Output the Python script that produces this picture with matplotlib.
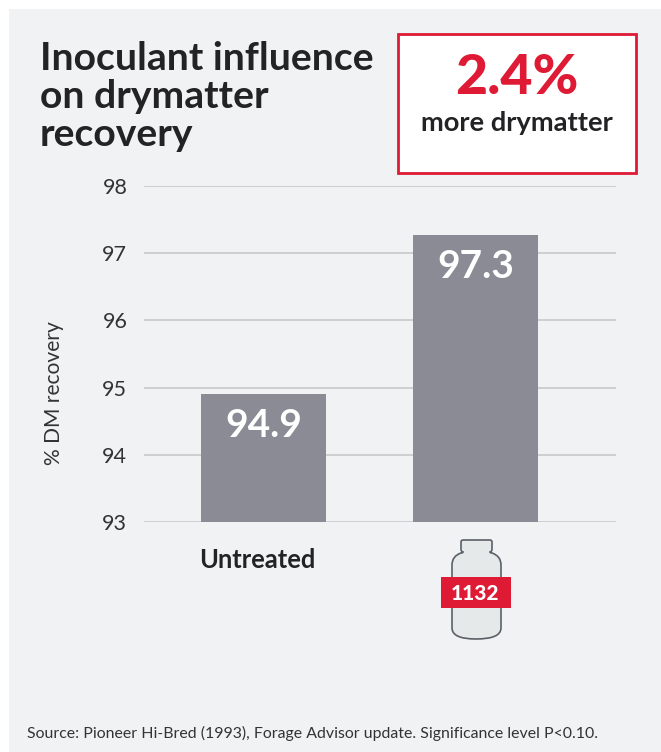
import matplotlib
matplotlib.use("Agg")
import matplotlib.pyplot as plt
from matplotlib.patches import Rectangle, PathPatch
from matplotlib.path import Path

categories = ["Untreated", "1132"]
values = [94.9, 97.27]
yticks = [93, 94, 95, 96, 97, 98]
title_lines = ["Inoculant influence", "on drymatter", "recovery"]
callout_value = "2.4%"
callout_text = "more drymatter"
ylabel = "% DM recovery"
source = "Source: Pioneer Hi-Bred (1993), Forage Advisor update. Significance level P<0.10."

W, H = 661, 752
RED = "#DE1A35"
DARK = "#232326"
BAR = "#8A8B94"
PANEL = "#F1F2F4"
GRID = "#C8C9CB"
plt.rcParams["font.family"] = ["Lato", "DejaVu Sans"]

fig = plt.figure(figsize=(W / 100, H / 100), dpi=100, facecolor="white")
bg = fig.add_axes([0, 0, 1, 1], zorder=0)
bg.set_xlim(0, W); bg.set_ylim(H, 0); bg.axis("off")
bg.add_patch(Rectangle((9, 9), W - 9, H - 9, fc=PANEL, ec="none"))

# main chart
L, R, T, B = 144, 616, 186, 522
ax = fig.add_axes([L / W, 1 - B / H, (R - L) / W, (B - T) / H], zorder=1)
ax.patch.set_alpha(0)
ax.set_ylim(93, 98)
ax.set_xlim(-119.5 / 212, 1 + 140.5 / 212)
ax.bar(range(2), [v - 93 for v in values], bottom=93, width=125 / 212, color=BAR, zorder=3)
ax.set_yticks(yticks)
ax.set_xticks([])
ax.grid(axis="y", color=GRID, lw=1.2, zorder=1)
ax.set_axisbelow(True)
for s in ax.spines.values():
    s.set_visible(False)
ax.tick_params(axis="y", length=0, pad=12, labelsize=15.5, labelcolor="#333336")
ax.set_ylabel(ylabel, fontsize=15.1, color="#333336", labelpad=0)
ax.yaxis.set_label_coords((64 - L) / (R - L), (B - 393) / (B - T), transform=ax.transAxes)
for i, v in enumerate(values):
    ax.annotate(f"{v:.1f}", (i, v), xytext=(0, -10), textcoords="offset points", ha="center", va="top",
                color="white", fontsize=28, fontweight="bold", zorder=4)

# overlay in pixel coordinates for the title, callout and bottle
ov = fig.add_axes([0, 0, 1, 1], zorder=2)
ov.set_xlim(0, W); ov.set_ylim(H, 0); ov.axis("off")
for line, y in zip(title_lines, [58, 96, 134]):
    ov.text(40, y, line, fontsize=28.2, fontweight="bold", color=DARK, va="center", ha="left")
ov.add_patch(Rectangle((398, 34), 238, 139, fc="white", ec=RED, lw=2))
ov.text(517, 78, callout_value, fontsize=40, fontweight="black", color=RED, ha="center", va="center")
ov.text(517, 123, callout_text, fontsize=19.7, fontweight="bold", color=DARK, ha="center", va="center")
ov.text(257, 560, categories[0], fontsize=18.4, fontweight="bold", color=DARK, ha="center", va="center")

# bottle
M, C, LN = Path.MOVETO, Path.CURVE3, Path.LINETO
bottle = [
    (M, (463, 540)), (LN, (490, 540)), (C, (492, 540)), (C, (492, 542)), (LN, (492, 549)),
    (C, (492, 552)), (C, (490, 552)), (C, (490, 553)), (C, (492, 553)),
    (C, (501, 556)), (C, (501, 565)), (LN, (501, 628)), (C, (501, 639)), (C, (476, 639)),
    (C, (452, 639)), (C, (452, 628)), (LN, (452, 565)), (C, (452, 556)), (C, (461, 553)),
    (C, (463, 553)), (C, (463, 552)), (C, (461, 552)), (C, (461, 549)), (LN, (461, 542)),
    (C, (461, 540)), (C, (463, 540)),
]
codes = [b[0] for b in bottle]
verts = [b[1] for b in bottle]
ov.add_patch(PathPatch(Path(verts, codes), fc="#E6E9EA", ec="#5B6068", lw=1.2))
ov.add_patch(Rectangle((441, 577), 70, 31, fc=RED, ec="none"))
ov.text(475, 593.5, categories[1], fontsize=15, fontweight="black", color="white", ha="center", va="center")

ov.text(27, 733, source, fontsize=11.4, color="#333336", ha="left", va="center")
fig.savefig("out.png", dpi=100, facecolor="white")
